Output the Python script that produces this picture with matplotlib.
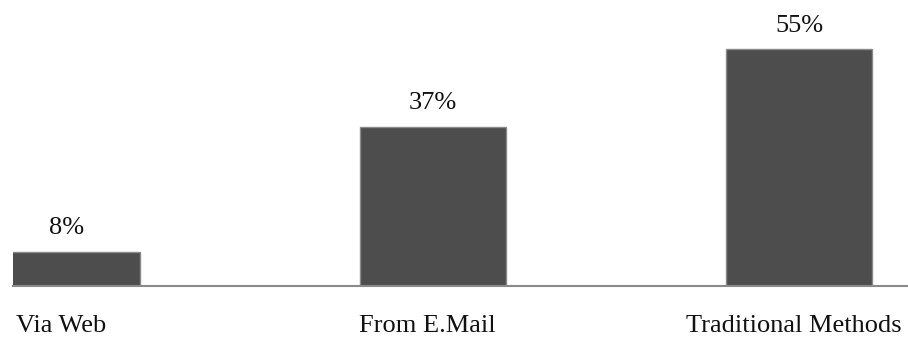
import matplotlib
matplotlib.use("Agg")
import matplotlib.pyplot as plt

categories = ["Via Web", "From E.Mail", "Traditional Methods"]
shares = [8, 37, 55]
value_labels = ["8%", "37%", "55%"]

plt.rcParams['font.family'] = ['Liberation Serif', 'DejaVu Serif']

W, H = 908, 338
fig = plt.figure(figsize=(W / 100, H / 100), dpi=100)
# axes: left edge at 13px, baseline at 286px, top at image top
ax = fig.add_axes([13 / W, (H - 286) / H, (W - 13) / W, 286 / H])

x = range(len(categories))
ax.bar(x, shares, width=0.4, color="#4d4d4d", edgecolor="#8a8a8a", linewidth=1.0, zorder=2)

for i, v in enumerate(shares):
    ax.annotate(value_labels[i], (i, v), xytext=(0, 9), textcoords="offset points",
                ha="center", va="bottom", fontsize=19, color="#111111")

ax.set_xlim(-0.1475, 2.298)
ax.set_ylim(0, 66.5)
ax.set_xticks([i - 0.015 for i in x])
ax.set_xticklabels(categories, fontsize=19, color="#111111")
ax.tick_params(axis="x", length=0, pad=21)
ax.set_yticks([])
for s in ["top", "right", "left"]:
    ax.spines[s].set_visible(False)
ax.spines["bottom"].set_color("#8a8a8a")
ax.spines["bottom"].set_linewidth(1.5)

fig.savefig("out.png", dpi=100)
